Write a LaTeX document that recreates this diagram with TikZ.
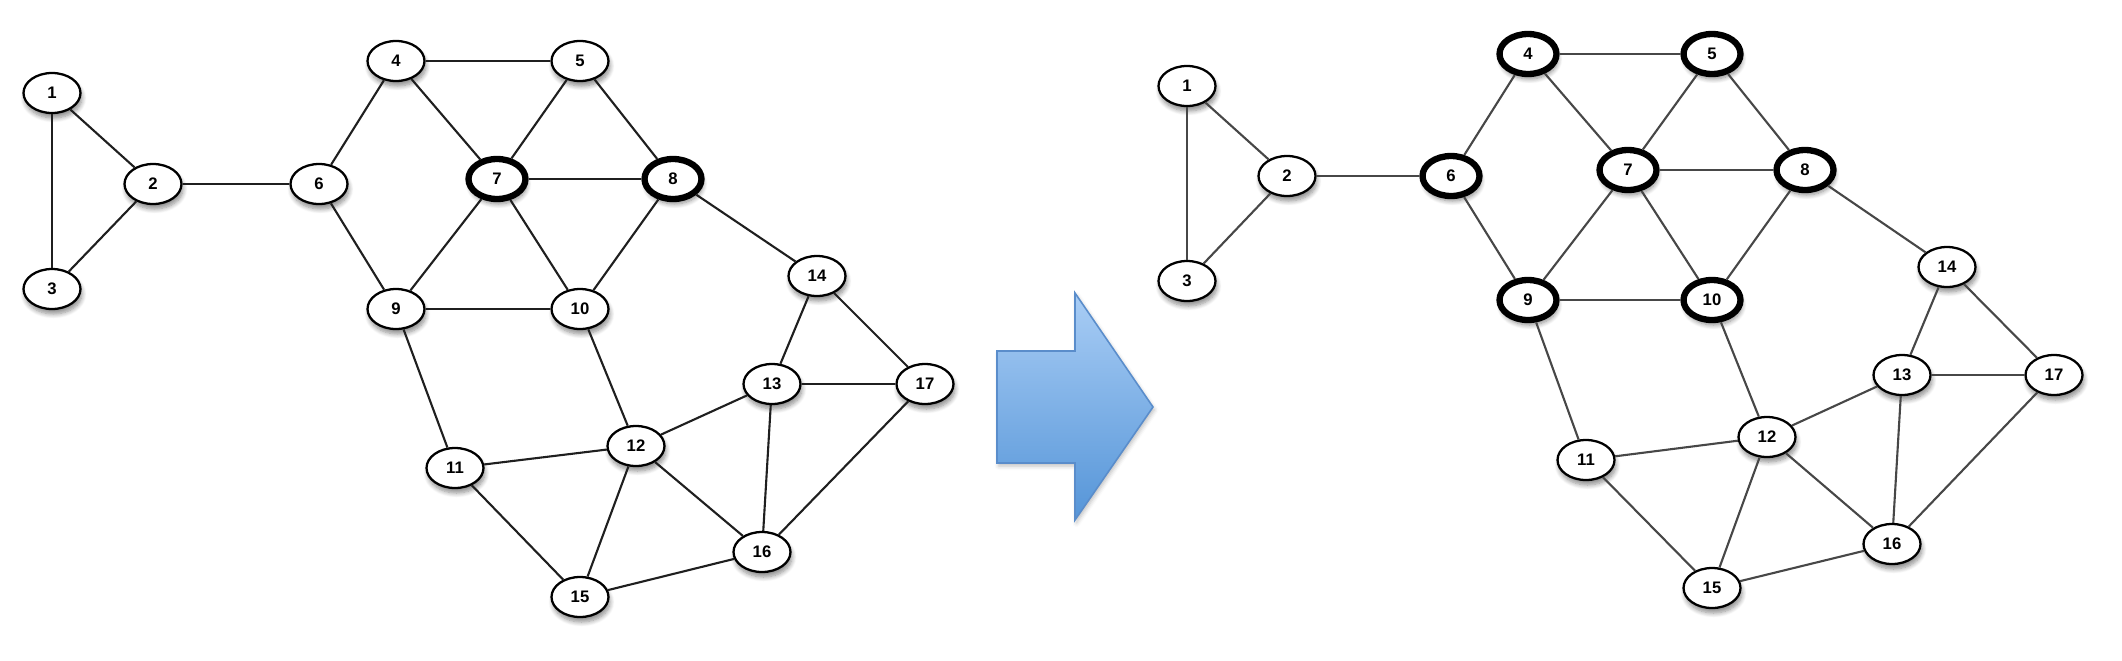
\documentclass[tikz,border=0pt]{standalone}
\usepackage{fontspec}
\setsansfont{Liberation Sans}
\usetikzlibrary{shapes.geometric,shadows,shadows.blur}
\definecolor{arrtop}{HTML}{A9CDF5}
\definecolor{arrbot}{HTML}{5595D8}
\definecolor{arredge}{HTML}{5A8DCB}
\tikzset{
  vtx/.style={ellipse, draw=black, fill=white, line width=1.3pt, minimum width=1.14cm, minimum height=0.8cm, inner sep=0pt,
    font=\sffamily\bfseries\fontsize{9.5}{11}\selectfont,
    blur shadow={shadow xshift=0.03cm, shadow yshift=-0.1cm, shadow opacity=45, shadow blur radius=0.09cm, shadow blur steps=8}},
  hot/.style={line width=3.6pt},
  edgeL/.style={draw=black!88, line width=1.2pt},
  edgeR/.style={draw=black!72, line width=1.2pt},
}
\begin{document}
\begin{tikzpicture}[x=0.02cm, y=-0.02cm]
\useasboundingbox (0,0) rectangle (2122,660);
% left graph
\foreach \n/\x/\y/\s in {1/52/93/,2/153/184/,3/52/289/,4/396/61/,5/580/61/,6/319/184/,7/497/179/hot,8/673/179/hot,9/396/309/,10/580/309/,11/455/468/,12/636/446/,13/772/384/,14/817/276/,15/580/597/,16/762/552/,17/925/384/}
  \node[vtx,\s] (L\n) at (\x,\y) {\n};
% right graph
\foreach \n/\x/\y/\s in {1/1187/86/,2/1287/176/,3/1187/281/,4/1528/54/hot,5/1712/54/hot,6/1451/176/hot,7/1628/170/hot,8/1805/170/hot,9/1528/300/hot,10/1712/300/hot,11/1586/460/,12/1767/437/,13/1902/375/,14/1947/267/,15/1712/588/,16/1892/544/,17/2054/375/}
  \node[vtx,\s] (R\n) at (\x,\y) {\n};
\foreach \a/\b in {1/2,1/3,2/3,2/6,4/5,4/6,4/7,5/7,5/8,6/9,7/8,7/9,7/10,8/10,8/14,9/10,9/11,10/12,11/12,11/15,12/13,12/15,12/16,13/14,13/17,13/16,14/17,16/17,15/16}{
  \draw[edgeL] (L\a) -- (L\b);
  \draw[edgeR] (R\a) -- (R\b);
}
% arrow
\coordinate (A0) at (997,351);
\draw[arredge, line width=0.9pt, top color=arrtop, bottom color=arrbot, line join=miter,
  blur shadow={shadow xshift=0.03cm, shadow yshift=-0.06cm, shadow opacity=25, shadow blur radius=0.08cm}]
  (A0) -- (1075,351) -- (1075,293) -- (1153,407) -- (1075,520) -- (1075,463) -- (997,463) -- cycle;
\end{tikzpicture}
\end{document}
